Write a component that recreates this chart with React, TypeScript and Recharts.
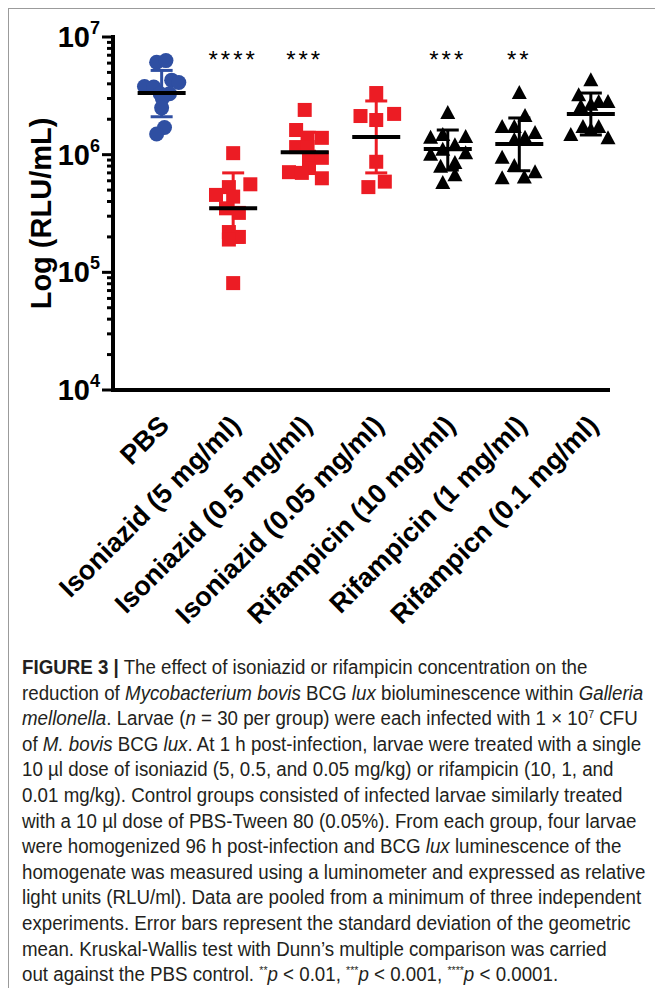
import { ScatterChart, Scatter, XAxis, YAxis, ErrorBar } from 'recharts'

const groups = [
  'PBS',
  'Isoniazid (5 mg/ml)',
  'Isoniazid (0.5 mg/ml)',
  'Isoniazid (0.05 mg/ml)',
  'Rifampicin (10 mg/ml)',
  'Rifampicin (1 mg/ml)',
  'Rifampicn (0.1 mg/ml)',
]

// RLU/mL per larva, with horizontal spread (in group units) as plotted
const pbsValues = [6.1e6, 6.3e6, 4.3e6, 4.1e6, 3.8e6, 3.75e6, 3.3e6, 3.3e6, 3.0e6, 2.5e6, 1.7e6, 1.5e6]
const pbsSpread = [-0.07, 0.06, 0.14, 0.24, -0.24, -0.11, 0.11, -0.02, 0.01, 0.0, 0.04, -0.07]

const iso5Values = [1.03e6, 5.3e5, 5.6e5, 4.55e5, 4.4e5, 3.5e5, 3.2e5, 2.2e5, 2.0e5, 1.9e5, 8.1e4]
const iso5Spread = [0, -0.06, 0.24, -0.24, 0, -0.1, 0.08, -0.06, 0.08, -0.06, 0]

const iso05Values = [2.4e6, 1.62e6, 1.39e6, 1.39e6, 1.16e6, 1.16e6, 9.6e5, 9.4e5, 7.1e5, 7.7e5, 7.0e5, 6.3e5]
const iso05Spread = [0, -0.12, 0.04, 0.24, -0.12, 0.04, 0.06, 0.24, -0.22, 0.06, -0.04, 0.24]

const iso005Values = [3.34e6, 2.13e6, 2.22e6, 1.97e6, 8.7e5, 5.9e5, 5.3e5]
const iso005Spread = [0, -0.22, 0.25, 0, 0, 0.12, -0.11]

const rif10Values = [2.26e6, 1.39e6, 1.41e6, 1.47e6, 1.0e6, 1.1e6, 1.2e6, 1.03e6, 7.9e5, 8.5e5, 6.7e5, 5.75e5]
const rif10Spread = [0, -0.24, 0.25, -0.07, -0.24, -0.07, 0.1, 0.25, -0.1, 0.1, 0.1, -0.07]

const rif1Values = [3.34e6, 2.13e6, 1.72e6, 1.72e6, 1.53e6, 1.33e6, 1.39e6, 9.4e5, 8.0e5, 7.1e5, 6.3e5, 6.4e5]
const rif1Spread = [0, 0.08, -0.24, -0.07, 0.22, -0.07, 0.08, -0.24, -0.07, 0.22, -0.24, 0.07]

const rif01Values = [4.3e6, 3.2e6, 2.8e6, 2.8e6, 2.55e6, 2.65e6, 1.47e6, 1.72e6, 1.72e6, 1.62e6, 1.38e6]
const rif01Spread = [0, -0.17, 0.11, 0.24, -0.14, 0, -0.28, -0.11, 0.11, 0, 0.24]

// geometric mean and SD bounds per group
const means = [3.34e6, 3.5e5, 1.05e6, 1.41e6, 1.12e6, 1.23e6, 2.22e6]
const upper = [5.2e6, 7.0e5, 1.55e6, 2.86e6, 1.62e6, 2.05e6, 3.34e6]
const lower = [2.1e6, 1.8e5, 7.0e5, 7.0e5, 7.4e5, 7.3e5, 1.47e6]

const stars = ['', '****', '***', '', '***', '**', '']

const yTicks: number[] = []
for (let d = 4; d < 7; d++) for (let m = 1; m < 10; m++) yTicks.push(m * 10 ** d)
yTicks.push(1e7)

const BLUE = '#2f4fa2'
const RED = '#ec1c24'
const FONT = '"Liberation Sans", Arial, Helvetica, sans-serif'

const pts = (g: number, vals: number[], spread: number[]) =>
  vals.map((v, i) => ({ x: g + spread[i], y: v }))

const summary = (idx: number[]) =>
  idx.map((i) => ({ x: i, y: means[i], err: [means[i] - lower[i], upper[i] - means[i]] }))

const sigData = stars
  .map((s, i) => ({ x: i, y: 7e6, label: s }))
  .filter((d) => d.label)

const Circle = (p: any) => <circle cx={p.cx} cy={p.cy} r={7.5} fill={BLUE} />
const Square = (p: any) => <rect x={p.cx - 7} y={p.cy - 7} width={14} height={14} fill={RED} />
const Tri = (p: any) => (
  <polygon
    points={`${p.cx},${p.cy - 8} ${p.cx + 7.5},${p.cy + 6} ${p.cx - 7.5},${p.cy + 6}`}
    fill="#000"
  />
)
const MeanLine = (p: any) => (
  <line x1={p.cx - 24} x2={p.cx + 24} y1={p.cy} y2={p.cy} stroke="#000" strokeWidth={4} />
)
const Stars = (p: any) => (
  <text
    x={p.cx}
    y={p.cy}
    dy="0.55em"
    textAnchor="middle"
    fontFamily={FONT}
    fontSize={24}
    letterSpacing={3}
    fill="#000"
  >
    {p.payload.label}
  </text>
)

function YTick({ x, y, payload }: any) {
  const v = payload.value
  const lg = Math.log10(v)
  const exp = Math.round(lg)
  const major = Math.abs(lg - exp) < 1e-6
  return (
    <g>
      <line x1={x - (major ? 11 : 6)} x2={x} y1={y} y2={y} stroke="#000" strokeWidth={3} />
      {major && (
        <text
          x={x - 13}
          y={y}
          dy={10}
          textAnchor="end"
          fontFamily={FONT}
          fontWeight="bold"
          fontSize={29}
          fill="#000"
        >
          10
          <tspan dy={-13} fontSize={18}>
            {exp}
          </tspan>
        </text>
      )}
    </g>
  )
}

function XTick({ x, y, payload }: any) {
  const tx = x + 9
  const ty = y + 37
  return (
    <text
      x={tx}
      y={ty}
      transform={`rotate(-45, ${tx}, ${ty})`}
      textAnchor="end"
      fontFamily={FONT}
      fontWeight="bold"
      fontSize={27}
      fill="#000"
    >
      {groups[payload.value]}
    </text>
  )
}

const YLabel = ({ viewBox }: any) => {
  const cx = viewBox.x + 41
  const cy = viewBox.y + viewBox.height / 2
  return (
    <text
      x={cx}
      y={cy}
      transform={`rotate(-90, ${cx}, ${cy})`}
      textAnchor="middle"
      dominantBaseline="central"
      fontFamily={FONT}
      fontWeight="bold"
      fontSize={29}
      fill="#000"
    >
      Log (RLU/mL)
    </text>
  )
}

const supStyle = { fontSize: 11, lineHeight: 0 }

export default function App() {
  return (
    <div
      style={{
        position: 'absolute',
        left: 0,
        top: 0,
        width: 655,
        height: 988,
        background: '#fff',
        overflow: 'hidden',
      }}
    >
      <div
        style={{
          position: 'absolute',
          left: 8,
          top: 8,
          right: 0,
          bottom: 0,
          borderTop: '1.5px solid #9b9b9b',
          borderLeft: '1.5px solid #9b9b9b',
        }}
      />
      <div style={{ position: 'absolute', left: 0, top: 0 }}>
        <ScatterChart width={655} height={640} margin={{ top: 37, right: 47, bottom: 10, left: 0 }}>
          <XAxis
            type="number"
            dataKey="x"
            domain={[-0.68, 6.18]}
            ticks={[0, 1, 2, 3, 4, 5, 6]}
            interval={0}
            height={240}
            tickSize={0}
            tickMargin={0}
            tickLine={false}
            tick={<XTick />}
            axisLine={{ stroke: '#000', strokeWidth: 4, strokeLinecap: 'square' }}
          />
          <YAxis
            type="number"
            dataKey="y"
            scale="log"
            domain={[1e4, 1e7]}
            allowDataOverflow
            ticks={yTicks}
            interval={0}
            width={113}
            tickSize={0}
            tickMargin={0}
            tickLine={false}
            tick={<YTick />}
            axisLine={{ stroke: '#000', strokeWidth: 4, strokeLinecap: 'square' }}
            label={{ content: YLabel }}
          />
          <Scatter data={pts(0, pbsValues, pbsSpread)} shape={Circle} isAnimationActive={false} />
          <Scatter data={pts(1, iso5Values, iso5Spread)} shape={Square} isAnimationActive={false} />
          <Scatter data={pts(2, iso05Values, iso05Spread)} shape={Square} isAnimationActive={false} />
          <Scatter data={pts(3, iso005Values, iso005Spread)} shape={Square} isAnimationActive={false} />
          <Scatter data={pts(4, rif10Values, rif10Spread)} shape={Tri} isAnimationActive={false} />
          <Scatter data={pts(5, rif1Values, rif1Spread)} shape={Tri} isAnimationActive={false} />
          <Scatter data={pts(6, rif01Values, rif01Spread)} shape={Tri} isAnimationActive={false} />
          <Scatter data={summary([0])} shape={MeanLine} isAnimationActive={false}>
            <ErrorBar dataKey="err" direction="y" width={11} stroke={BLUE} strokeWidth={3} />
          </Scatter>
          <Scatter data={summary([1, 2, 3])} shape={MeanLine} isAnimationActive={false}>
            <ErrorBar dataKey="err" direction="y" width={11} stroke={RED} strokeWidth={3} />
          </Scatter>
          <Scatter data={summary([4, 5, 6])} shape={MeanLine} isAnimationActive={false}>
            <ErrorBar dataKey="err" direction="y" width={11} stroke="#000" strokeWidth={3} />
          </Scatter>
          <Scatter data={sigData} shape={Stars} isAnimationActive={false} />
        </ScatterChart>
      </div>
      <div
        style={{
          fontFamily: FONT,
          position: 'absolute',
          left: 22,
          top: 655,
          fontSize: 19.5,
          lineHeight: '25.6px',
          color: '#231f20',
          whiteSpace: 'nowrap',
          transform: 'scaleX(0.96)',
          transformOrigin: '0 0',
        }}
      >
        <div>
          <b>FIGURE 3</b> <b>|</b> The effect of isoniazid or rifampicin concentration on the
        </div>
        <div>
          reduction of <i>Mycobacterium bovis</i> BCG <i>lux</i> bioluminescence within <i>Galleria</i>
        </div>
        <div>
          <i>mellonella</i>. Larvae (<i>n</i> = 30 per group) were each infected with 1 × 10
          <sup style={supStyle}>7</sup> CFU
        </div>
        <div>
          of <i>M. bovis</i> BCG <i>lux</i>. At 1 h post-infection, larvae were treated with a single
        </div>
        <div>10 µl dose of isoniazid (5, 0.5, and 0.05 mg/kg) or rifampicin (10, 1, and</div>
        <div>0.01 mg/kg). Control groups consisted of infected larvae similarly treated</div>
        <div>with a 10 µl dose of PBS-Tween 80 (0.05%). From each group, four larvae</div>
        <div>
          were homogenized 96 h post-infection and BCG <i>lux</i> luminescence of the
        </div>
        <div>homogenate was measured using a luminometer and expressed as relative</div>
        <div>light units (RLU/ml). Data are pooled from a minimum of three independent</div>
        <div>experiments. Error bars represent the standard deviation of the geometric</div>
        <div>mean. Kruskal-Wallis test with Dunn’s multiple comparison was carried</div>
        <div>
          out against the PBS control. <sup style={supStyle}>**</sup>
          <i>p</i> &lt; 0.01, <sup style={supStyle}>***</sup>
          <i>p</i> &lt; 0.001, <sup style={supStyle}>****</sup>
          <i>p</i> &lt; 0.0001.
        </div>
      </div>
    </div>
  )
}
